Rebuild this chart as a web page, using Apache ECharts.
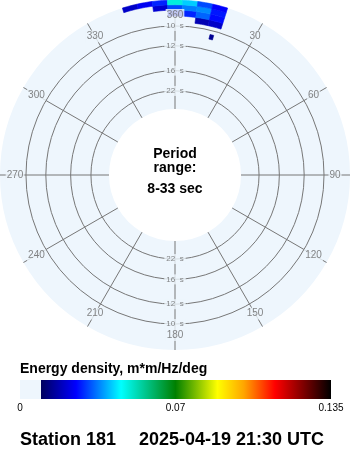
<!DOCTYPE html>
<html><head><meta charset="utf-8">
<script src="https://cdn.jsdelivr.net/npm/echarts@6/dist/echarts.min.js"></script>
<style>html,body{margin:0;padding:0;background:#fff}#c{width:350px;height:450px}</style>
</head><body><div id="c"></div>
<script>
// ---- data ----
const freqEdges = [0.1033, 0.1083, 0.1133, 0.1178, 0.1218];   // Hz, band edges (low -> high)
const dirCenters = [345, 350, 355, 360, 5, 10, 15];             // deg, direction bins
const dirWidth = 5;                                             // deg
const energy = [                                                // m*m/Hz/deg, rows = bands
  [0,     0,     0,     0,     0,     0.017, 0.019],
  [0,     0,     0,     0.018, 0.027, 0.032, 0.025],
  [0,     0,     0.020, 0.030, 0.034, 0.035, 0.026],
  [0.019, 0.023, 0.027, 0.047, 0.040, 0.030, 0.024]
];
const speckFreq = [0.0925, 0.0965];
const speckDir = [14, 15.5];
const speckValue = 0.014;
const angleTicks = [30, 60, 90, 120, 150, 180, 210, 240, 270, 300, 330, 360];
const periodTicks = [10, 12, 16, 22];
const periodLabelDirs = [0, 180];
const cbarTicks = [0, 0.0675, 0.135];
const cbarTickLabels = ['0', '0.07', '0.135'];
const VMAX = 0.135;
const FMIN = 1 / 33, FMAX = 0.1218;
const colormap = [[0.0675, '#00005e'], [0.18, '#0000ff'], [0.325, '#00ffff'], [0.5, '#008000'],
  [0.635, '#ffff00'], [0.72, '#ffa500'], [0.82, '#ff0000'], [0.91, '#800000'], [1, '#000000']];

// ---- styles ----
const DISK = '#eef6fd', GRID = '#777', TXT = '#666';
const R0 = 66, R1 = 175;
const FONT = '"Liberation Sans", Arial, sans-serif';
const labelF = FMIN + (160 - R0) / (R1 - R0) * (FMAX - FMIN);

function hex(c) { return [1, 3, 5].map(i => parseInt(c.substr(i, 2), 16)); }
function colorFor(v) {
  const p = v / VMAX;
  if (p <= colormap[0][0]) return colormap[0][1];
  for (let i = 1; i < colormap.length; i++) {
    if (p <= colormap[i][0]) {
      const t = (p - colormap[i - 1][0]) / (colormap[i][0] - colormap[i - 1][0]);
      const a = hex(colormap[i - 1][1]), b = hex(colormap[i][1]);
      return 'rgb(' + a.map((x, k) => Math.round(x + (b[k] - x) * t)).join(',') + ')';
    }
  }
  return colormap[colormap.length - 1][1];
}

const cells = [];
energy.forEach((row, i) => row.forEach((v, j) => {
  if (v > 0) cells.push([freqEdges[i], freqEdges[i + 1], dirCenters[j] - dirWidth / 2, dirCenters[j] + dirWidth / 2, v]);
}));
cells.push([speckFreq[0], speckFreq[1], speckDir[0], speckDir[1], speckValue]);

const angleLabelData = angleTicks.map(a => ({ value: [labelF, a], name: String(a) }));
const periodLabelData = [];
periodTicks.forEach(p => periodLabelDirs.forEach(d => periodLabelData.push({ value: [1 / p, d], name: p + '  s' })));
const circleData = periodTicks.map(p => [1 / p, 0]);

const gradStops = [{ offset: 0, color: DISK }, { offset: colormap[0][0], color: DISK }]
  .concat(colormap.map(s => ({ offset: s[0], color: s[1] })));

const chart = echarts.init(document.getElementById('c'), null, { renderer: 'canvas' });
chart.setOption({
  animation: false,
  polar: [{ center: [175, 175], radius: [R0, R1] }, { center: [175, 175], radius: [R0, R1] }],
  angleAxis: [
    { polarIndex: 0, type: 'value', min: 0, max: 360, interval: 30, startAngle: 90, clockwise: true, z: 0,
      axisLine: { show: false }, axisTick: { show: false }, axisLabel: { show: false },
      splitLine: { show: false }, splitArea: { show: true, areaStyle: { color: [DISK] } } },
    { polarIndex: 1, type: 'value', min: 0, max: 360, interval: 30, startAngle: 90, clockwise: true, z: 1,
      axisLine: { show: false }, axisTick: { show: false }, axisLabel: { show: false },
      splitLine: { show: true, lineStyle: { color: GRID, width: 1 } }, splitArea: { show: false } }
  ],
  radiusAxis: [
    { polarIndex: 0, type: 'value', min: FMIN, max: FMAX, z: 0,
      axisLine: { show: false }, axisTick: { show: false }, axisLabel: { show: false }, splitLine: { show: false } },
    { polarIndex: 1, type: 'value', min: FMIN, max: FMAX, z: 1,
      axisLine: { show: false }, axisTick: { show: false }, axisLabel: { show: false }, splitLine: { show: false } }
  ],
  grid: { left: 20, top: 380, width: 311, height: 19 },
  xAxis: { type: 'value', min: 0, max: VMAX, axisLine: { show: false }, axisTick: { show: false }, splitLine: { show: false },
    axisLabel: { customValues: cbarTicks, showMinLabel: true, showMaxLabel: true, margin: 4,
      formatter: v => cbarTickLabels[cbarTicks.indexOf(v)], fontSize: 10, color: '#000', fontFamily: FONT } },
  yAxis: { type: 'value', min: 0, max: 1, show: false },
  series: [
    { type: 'custom', coordinateSystem: 'polar', polarIndex: 1, z: 1, silent: true,
      encode: { radius: 0, angle: 1 }, data: circleData,
      renderItem: function (params, api) {
        const c = api.coord([api.value(0), api.value(1)]);
        return { type: 'circle', shape: { cx: params.coordSys.cx, cy: params.coordSys.cy, r: c[2] },
          style: { fill: null, stroke: GRID, lineWidth: 1 } };
      } },
    { type: 'custom', coordinateSystem: 'polar', polarIndex: 1, z: 2, silent: true,
      encode: { radius: 0, angle: 2 }, data: cells,
      renderItem: function (params, api) {
        const f0 = api.value(0), f1 = api.value(1), a0 = api.value(2), a1 = api.value(3);
        const pts = [], N = 6;
        for (let k = 0; k <= N; k++) { const c = api.coord([f1, a0 + (a1 - a0) * k / N]); pts.push([c[0], c[1]]); }
        for (let k = N; k >= 0; k--) { const c = api.coord([f0, a0 + (a1 - a0) * k / N]); pts.push([c[0], c[1]]); }
        const col = colorFor(api.value(4));
        return { type: 'polygon', shape: { points: pts }, style: { fill: col, stroke: col, lineWidth: 0.6 } };
      } },
    { type: 'scatter', coordinateSystem: 'polar', polarIndex: 1, z: 4, silent: true, symbolSize: 1,
      itemStyle: { color: 'rgba(0,0,0,0)' }, data: angleLabelData,
      label: { show: true, position: 'inside', formatter: '{b}', color: TXT, fontSize: 10, fontFamily: FONT,
        backgroundColor: DISK, padding: [1, 1] } },
    { type: 'scatter', coordinateSystem: 'polar', polarIndex: 1, z: 4, silent: true, symbolSize: 1,
      itemStyle: { color: 'rgba(0,0,0,0)' }, data: periodLabelData,
      label: { show: true, position: 'inside', formatter: '{b}', color: TXT, fontSize: 8, fontFamily: FONT,
        backgroundColor: DISK, padding: [1, 2] } },
    { type: 'custom', coordinateSystem: 'cartesian2d', silent: true, encode: { x: [0, 2], y: [1, 3] },
      data: [[0, 0, VMAX, 1]],
      renderItem: function (params, api) {
        const p0 = api.coord([api.value(0), api.value(1)]), p1 = api.coord([api.value(2), api.value(3)]);
        return { type: 'rect', shape: { x: p0[0], y: p1[1], width: p1[0] - p0[0], height: p0[1] - p1[1] },
          style: { fill: new echarts.graphic.LinearGradient(0, 0, 1, 0, gradStops) } };
      } }
  ],
  graphic: [
    { type: 'text', x: 175, y: 154.5, style: { text: 'Period', font: 'bold 14px ' + FONT, fill: '#000', align: 'center', verticalAlign: 'middle' } },
    { type: 'text', x: 175, y: 168, style: { text: 'range:', font: 'bold 14px ' + FONT, fill: '#000', align: 'center', verticalAlign: 'middle' } },
    { type: 'text', x: 175, y: 189.5, style: { text: '8-33 sec', font: 'bold 14px ' + FONT, fill: '#000', align: 'center', verticalAlign: 'middle' } },
    { type: 'text', x: 20, y: 369, style: { text: 'Energy density, m*m/Hz/deg', font: 'bold 14px ' + FONT, fill: '#000', align: 'left', verticalAlign: 'middle' } },
    { type: 'text', x: 20, y: 440, style: { text: 'Station 181', font: 'bold 18px ' + FONT, fill: '#000', align: 'left', verticalAlign: 'middle' } },
    { type: 'text', x: 139, y: 440, style: { text: '2025-04-19 21:30 UTC', font: 'bold 18px ' + FONT, fill: '#000', align: 'left', verticalAlign: 'middle' } }
  ]
});
</script></body></html>
